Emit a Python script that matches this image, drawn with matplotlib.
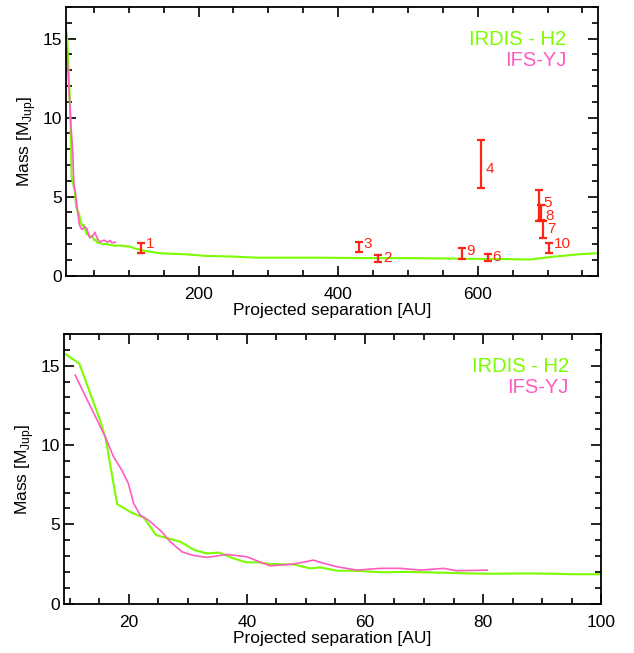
import matplotlib.pyplot as plt
import numpy as np
from matplotlib.ticker import MultipleLocator

plt.rcParams['font.family'] = ['Liberation Sans', 'DejaVu Sans']
plt.rcParams['mathtext.fontset'] = 'custom'
plt.rcParams['mathtext.rm'] = 'Liberation Sans'

GREEN = '#7cfc00'
PINK = '#ff5cc0'
RED = '#ff2414'

# IRDIS - H2 contrast curve converted to mass (AU, M_Jup)
irdis_sep = [9.3, 11.6, 15.1, 16.0, 18.0, 20.5, 22.5, 24.6, 26.7, 28.7, 31.1,
             33.2, 35.3, 37.7, 39.9, 42.0, 43.9, 47.9, 50.7, 52.4, 55.3, 58.1,
             63.2, 67.1, 72.2, 80.7, 87.5, 92.0, 95.4, 100, 111, 125, 144,
             165, 182, 211, 249, 283, 326, 373, 416, 460, 500, 550, 600, 640,
             674, 708, 749, 773]
irdis_mass = [15.72, 15.13, 11.56, 10.5, 6.27, 5.72, 5.43, 4.32, 4.1, 3.9,
              3.37, 3.16, 3.22, 2.85, 2.6, 2.6, 2.49, 2.47, 2.22, 2.28, 2.07,
              2.07, 1.97, 2.0, 1.95, 1.88, 1.9, 1.88, 1.85, 1.85, 1.68, 1.55,
              1.41, 1.37, 1.34, 1.24, 1.2, 1.13, 1.13, 1.13, 1.11, 1.1, 1.1,
              1.08, 1.05, 1.04, 1.01, 1.19, 1.36, 1.41]

# IFS-YJ contrast curve
ifs_sep = [10.9, 16.0, 17.4, 18.8, 19.9, 20.8, 21.9, 23.3, 25.4, 27.0, 29.0,
           30.9, 33.2, 36.6, 40.0, 41.8, 43.9, 47.9, 51.3, 52.4, 55.3, 58.6,
           62.6, 66.0, 69.4, 73.3, 75.6, 80.7]
ifs_mass = [14.4, 10.5, 9.25, 8.41, 7.57, 6.31, 5.58, 5.26, 4.59, 3.9, 3.26,
            3.04, 2.91, 3.1, 2.95, 2.68, 2.38, 2.49, 2.74, 2.6, 2.32, 2.11,
            2.22, 2.22, 2.11, 2.22, 2.07, 2.11]

# candidates: id, separation, mass and mass error
cand_id = ['1', '2', '3', '4', '5', '6', '7', '8', '9', '10']
cand_sep = [117.8, 457.6, 429.4, 604.5, 687.5, 614.5, 693.5, 690.3, 577.0, 702.3]
cand_mass = [1.75, 1.09, 1.80, 7.06, 4.43, 1.13, 2.90, 4.00, 1.40, 1.75]
cand_err = [0.33, 0.21, 0.33, 1.49, 0.97, 0.23, 0.55, 0.48, 0.35, 0.33]

# label placement (points down from the bar centre)
lab_dy = [0, 2.4, 0.5, 3.4, 1.2, 2.2, 2.2, 5.2, 1.2, 0]


def style_axes(ax, xmajor, xminor):
    """ IDL-like frame: inward ticks on all four sides. """
    ax.set_ylim(0, 17)
    ax.xaxis.set_major_locator(MultipleLocator(xmajor))
    ax.xaxis.set_minor_locator(MultipleLocator(xminor))
    ax.yaxis.set_major_locator(MultipleLocator(5))
    ax.yaxis.set_minor_locator(MultipleLocator(1))
    ax.tick_params(which='both', direction='in', top=True, right=True,
                   labelsize=12.5, width=1.2)
    ax.tick_params(which='major', length=7.5)
    ax.tick_params(which='minor', length=4)
    ax.tick_params(axis='x', pad=8)
    ax.tick_params(axis='y', pad=3)
    for sp in ax.spines.values():
        sp.set_linewidth(1.3)
    ax.set_xlabel('Projected separation [AU]', fontsize=12.5, labelpad=1)
    ax.set_ylabel(r'Mass [M$_{\mathrm{Jup}}$]', fontsize=12.5, labelpad=3)


def add_legend(ax):
    ax.text(0.94, 0.878, 'IRDIS - H2', color=GREEN, fontsize=14.5,
            ha='right', va='center', transform=ax.transAxes)
    ax.text(0.94, 0.802, 'IFS-YJ', color=PINK, fontsize=14.5,
            ha='right', va='center', transform=ax.transAxes)


fig = plt.figure(figsize=(6.34, 6.53), dpi=100)
ax_top = fig.add_axes([0.1041, 0.5781, 0.8399, 0.4112])
ax_bot = fig.add_axes([0.1010, 0.0757, 0.8470, 0.4128])

for ax in (ax_top, ax_bot):
    ax.plot(irdis_sep, irdis_mass, color=GREEN, lw=1.5)
    ax.plot(ifs_sep, ifs_mass, color=PINK, lw=1.2)
    add_legend(ax)

ax_top.errorbar(cand_sep, cand_mass, yerr=cand_err, fmt='none', ecolor=RED,
                elinewidth=1.6, capsize=3, capthick=1.6)
for name, x, y, dy in zip(cand_id, cand_sep, cand_mass, lab_dy):
    ax_top.annotate(name, (x, y), xytext=(3.2, -dy), textcoords='offset points',
                    color=RED, fontsize=11, ha='left',
                    va='center' if name == '4' else 'baseline')

ax_top.set_xlim(10, 773)
style_axes(ax_top, 200, 50)
ax_bot.set_xlim(9, 100)
style_axes(ax_bot, 20, 5)

fig.savefig('out.png', dpi=100)
